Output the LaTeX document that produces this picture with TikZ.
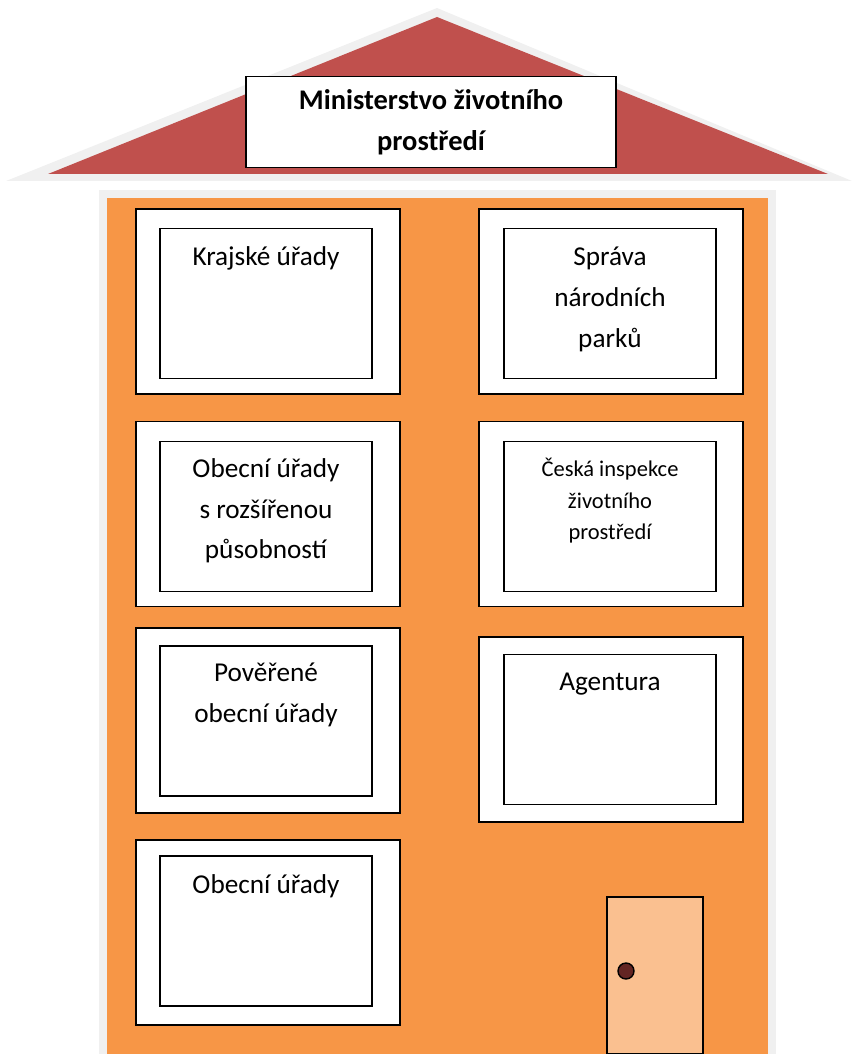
\documentclass[tikz,border=0pt]{standalone}
\usepackage{fontspec}
\setmainfont{Carlito}
\usetikzlibrary{positioning}

\definecolor{roofred}{HTML}{C0504D}
\definecolor{wallorange}{HTML}{F79646}
\definecolor{doorpeach}{HTML}{FAC090}
\definecolor{knobred}{HTML}{632523}
\definecolor{halogray}{HTML}{F0F0F0}

\tikzset{
  outerbox/.style={draw=black, line width=1pt, fill=white, minimum width=5.28cm, minimum height=3.7cm, inner sep=0pt},
  innerbox/.style={draw=black, line width=1pt, fill=white, minimum width=4.24cm, minimum height=3.0cm, inner sep=0pt},
  boxtext/.style={font=\fontsize{15.5}{23.2}\selectfont, align=center, anchor=north, inner sep=0pt},
  smalltext/.style={font=\fontsize{12.8}{17.8}\selectfont, align=center, anchor=north, inner sep=0pt},
}

\begin{document}
\begin{tikzpicture}[x=0.02cm, y=-0.02cm]

        \useasboundingbox (0,0) rectangle (858,1054);

        % roof
        \fill[halogray] (6,181) -- (437,8) -- (852,181) -- cycle;
        \fill[roofred] (48,174) -- (437,17) -- (828,174) -- cycle;

        % walls
        \fill[halogray] (99,190) rectangle (776,1054);
        \fill[wallorange] (107,198) rectangle (768,1054);

        \node[draw=black, line width=1pt, fill=white, minimum width=7.4cm, minimum height=1.82cm, align=center,
              font=\fontsize{16.2}{23.5}\selectfont\bfseries] (ministry) at (431,122) {Ministerstvo životního\\prostředí};

        % left column
        \node[outerbox] (krajOut) at (268,301.5) {};
        \node[innerbox] (kraj) at (266,303.5) {};
        \node[boxtext] (krajText) at (266,246) {Krajské úřady};

        \node[outerbox] (orpOut) at (268,514) {};
        \node[innerbox] (orp) at (266,516.5) {};
        \node[boxtext] (orpText) at (266,458) {Obecní úřady\\s rozšířenou\\působností};

        \node[outerbox] (poverOut) at (268,720.5) {};
        \node[innerbox] (pover) at (266,721) {};
        \node[boxtext] (poverText) at (266,663) {Pověřené\\obecní úřady};

        \node[outerbox] (obecOut) at (268,932.5) {};
        \node[innerbox] (obec) at (266,931) {};
        \node[boxtext] (obecText) at (266,874) {Obecní úřady};

        % right column
        \node[outerbox] (parkOut) at (611,301.5) {};
        \node[innerbox] (park) at (610,303.5) {};
        \node[boxtext] (parkText) at (610,247) {Správa\\národních\\parků};

        \node[outerbox] (cizpOut) at (611,514) {};
        \node[innerbox] (cizp) at (610,516.5) {};
        \node[smalltext] (cizpText) at (610,458) {Česká inspekce\\životního\\prostředí};

        \node[outerbox] (agentOut) at (611,729.5) {};
        \node[innerbox] (agent) at (610,729.5) {};
        \node[boxtext] (agentText) at (610,673) {Agentura};

        % door
        \draw[line width=1pt, fill=doorpeach] (607,897) rectangle (703,1054);
        \draw[line width=0.8pt, fill=knobred] (626,971) circle (0.16cm);

\end{tikzpicture}
\end{document}
